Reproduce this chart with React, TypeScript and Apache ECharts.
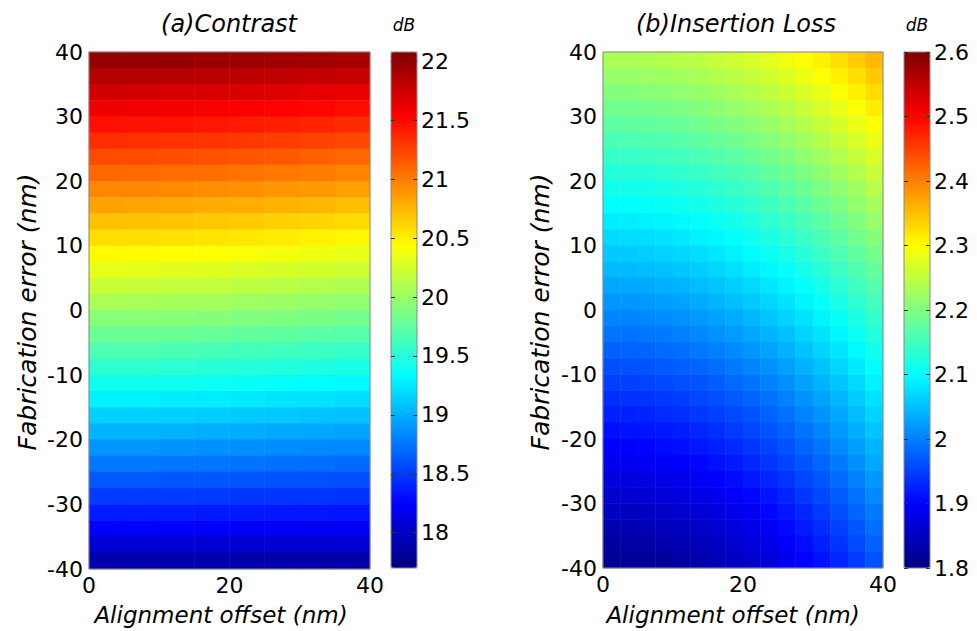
import React, { useEffect, useRef } from "react";
import * as echarts from "echarts";

// ---------- data (cell centres, rows listed from top y=38.75 to bottom y=-38.75) ----------
const rowCenters = [
  38.75, 36.25, 33.75, 31.25, 28.75, 26.25, 23.75, 21.25, 18.75, 16.25, 13.75, 11.25, 8.75, 6.25, 3.75, 1.25,
  -1.25, -3.75, -6.25, -8.75, -11.25, -13.75, -16.25, -18.75, -21.25, -23.75, -26.25, -28.75, -31.25, -33.75, -36.25, -38.75,
];

const contrastColCenters = [2.5, 7.5, 12.5, 17.5, 22.5, 27.5, 32.5, 37.5];
const contrastRows = [
  [21.99, 21.99, 21.98, 21.97, 21.96, 21.94, 21.93, 21.91],
  [21.86, 21.86, 21.85, 21.84, 21.82, 21.81, 21.79, 21.77],
  [21.73, 21.72, 21.71, 21.7, 21.69, 21.67, 21.65, 21.63],
  [21.6, 21.59, 21.58, 21.57, 21.55, 21.53, 21.51, 21.48],
  [21.47, 21.46, 21.45, 21.44, 21.42, 21.4, 21.38, 21.35],
  [21.34, 21.33, 21.32, 21.31, 21.29, 21.27, 21.25, 21.23],
  [21.21, 21.21, 21.2, 21.18, 21.17, 21.15, 21.12, 21.1],
  [21.09, 21.08, 21.07, 21.06, 21.04, 21.02, 21.0, 20.97],
  [20.96, 20.95, 20.94, 20.93, 20.91, 20.89, 20.87, 20.85],
  [20.84, 20.83, 20.82, 20.8, 20.79, 20.77, 20.75, 20.72],
  [20.71, 20.7, 20.69, 20.68, 20.66, 20.64, 20.62, 20.59],
  [20.58, 20.58, 20.57, 20.55, 20.54, 20.52, 20.49, 20.47],
  [20.46, 20.45, 20.44, 20.43, 20.41, 20.39, 20.37, 20.34],
  [20.33, 20.32, 20.31, 20.3, 20.28, 20.26, 20.24, 20.22],
  [20.2, 20.19, 20.18, 20.17, 20.15, 20.13, 20.11, 20.09],
  [20.07, 20.06, 20.05, 20.04, 20.02, 20.0, 19.98, 19.96],
  [19.93, 19.93, 19.92, 19.91, 19.89, 19.88, 19.86, 19.83],
  [19.8, 19.8, 19.79, 19.78, 19.76, 19.75, 19.73, 19.71],
  [19.67, 19.67, 19.66, 19.65, 19.63, 19.62, 19.6, 19.58],
  [19.54, 19.54, 19.53, 19.52, 19.5, 19.49, 19.47, 19.45],
  [19.41, 19.41, 19.4, 19.39, 19.38, 19.36, 19.34, 19.32],
  [19.28, 19.28, 19.27, 19.26, 19.25, 19.23, 19.22, 19.2],
  [19.15, 19.15, 19.14, 19.13, 19.12, 19.11, 19.09, 19.08],
  [19.02, 19.02, 19.01, 19.0, 18.99, 18.98, 18.97, 18.95],
  [18.89, 18.89, 18.88, 18.87, 18.86, 18.85, 18.84, 18.83],
  [18.76, 18.76, 18.75, 18.75, 18.74, 18.73, 18.72, 18.7],
  [18.63, 18.63, 18.62, 18.62, 18.61, 18.6, 18.59, 18.58],
  [18.5, 18.5, 18.5, 18.49, 18.48, 18.47, 18.47, 18.46],
  [18.37, 18.37, 18.37, 18.36, 18.36, 18.35, 18.34, 18.33],
  [18.24, 18.24, 18.23, 18.23, 18.22, 18.22, 18.21, 18.2],
  [18.06, 18.06, 18.06, 18.06, 18.05, 18.05, 18.04, 18.04],
  [17.89, 17.89, 17.89, 17.88, 17.88, 17.88, 17.87, 17.87],
];

const lossColCenters = [
  1.25, 3.75, 6.25, 8.75, 11.25, 13.75, 16.25, 18.75, 21.25, 23.75, 26.25, 28.75, 31.25, 33.75, 36.25, 38.75,
];
const lossRows = [
  [2.233, 2.234, 2.236, 2.239, 2.243, 2.248, 2.254, 2.261, 2.269, 2.279, 2.289, 2.3, 2.312, 2.325, 2.34, 2.355],
  [2.218, 2.219, 2.221, 2.224, 2.228, 2.233, 2.239, 2.246, 2.255, 2.264, 2.274, 2.285, 2.298, 2.311, 2.325, 2.341],
  [2.203, 2.204, 2.206, 2.209, 2.213, 2.218, 2.224, 2.232, 2.24, 2.249, 2.26, 2.271, 2.283, 2.297, 2.311, 2.327],
  [2.188, 2.189, 2.191, 2.194, 2.198, 2.203, 2.21, 2.217, 2.225, 2.235, 2.245, 2.256, 2.269, 2.282, 2.297, 2.313],
  [2.173, 2.174, 2.176, 2.179, 2.183, 2.188, 2.195, 2.202, 2.21, 2.22, 2.23, 2.242, 2.254, 2.268, 2.283, 2.298],
  [2.158, 2.159, 2.161, 2.164, 2.168, 2.173, 2.18, 2.187, 2.196, 2.205, 2.216, 2.227, 2.24, 2.254, 2.269, 2.284],
  [2.143, 2.144, 2.146, 2.149, 2.153, 2.159, 2.165, 2.172, 2.181, 2.19, 2.201, 2.213, 2.226, 2.239, 2.254, 2.27],
  [2.128, 2.129, 2.131, 2.134, 2.138, 2.144, 2.15, 2.158, 2.166, 2.176, 2.187, 2.198, 2.211, 2.225, 2.24, 2.256],
  [2.113, 2.114, 2.116, 2.12, 2.124, 2.129, 2.136, 2.143, 2.152, 2.162, 2.173, 2.184, 2.197, 2.211, 2.226, 2.243],
  [2.1, 2.101, 2.103, 2.106, 2.11, 2.116, 2.122, 2.13, 2.139, 2.148, 2.159, 2.171, 2.184, 2.198, 2.214, 2.23],
  [2.086, 2.087, 2.089, 2.092, 2.097, 2.102, 2.109, 2.116, 2.125, 2.135, 2.146, 2.158, 2.171, 2.185, 2.2, 2.217],
  [2.072, 2.073, 2.075, 2.079, 2.083, 2.089, 2.095, 2.103, 2.112, 2.122, 2.133, 2.145, 2.158, 2.172, 2.188, 2.204],
  [2.058, 2.059, 2.062, 2.065, 2.069, 2.075, 2.081, 2.089, 2.098, 2.108, 2.119, 2.131, 2.145, 2.159, 2.174, 2.191],
  [2.045, 2.046, 2.048, 2.051, 2.056, 2.061, 2.068, 2.076, 2.085, 2.095, 2.106, 2.118, 2.132, 2.146, 2.162, 2.178],
  [2.031, 2.032, 2.034, 2.037, 2.042, 2.048, 2.054, 2.062, 2.071, 2.081, 2.092, 2.105, 2.118, 2.133, 2.149, 2.165],
  [2.017, 2.018, 2.02, 2.024, 2.028, 2.034, 2.041, 2.049, 2.058, 2.068, 2.079, 2.092, 2.105, 2.12, 2.136, 2.153],
  [2.003, 2.004, 2.007, 2.01, 2.015, 2.02, 2.027, 2.035, 2.044, 2.054, 2.066, 2.078, 2.092, 2.107, 2.123, 2.14],
  [1.99, 1.991, 1.993, 1.996, 2.001, 2.007, 2.014, 2.022, 2.031, 2.041, 2.052, 2.065, 2.079, 2.094, 2.11, 2.127],
  [1.976, 1.977, 1.979, 1.983, 1.987, 1.993, 2.0, 2.008, 2.017, 2.028, 2.039, 2.052, 2.066, 2.08, 2.097, 2.114],
  [1.962, 1.963, 1.966, 1.969, 1.974, 1.979, 1.986, 1.995, 2.004, 2.014, 2.026, 2.039, 2.052, 2.068, 2.084, 2.101],
  [1.949, 1.95, 1.952, 1.956, 1.961, 1.966, 1.973, 1.982, 1.991, 2.001, 2.013, 2.026, 2.04, 2.055, 2.071, 2.089],
  [1.936, 1.938, 1.94, 1.944, 1.948, 1.954, 1.961, 1.969, 1.979, 1.989, 2.001, 2.014, 2.028, 2.043, 2.06, 2.077],
  [1.924, 1.925, 1.927, 1.931, 1.936, 1.942, 1.949, 1.957, 1.966, 1.977, 1.989, 2.002, 2.016, 2.031, 2.048, 2.066],
  [1.911, 1.913, 1.915, 1.919, 1.923, 1.929, 1.936, 1.945, 1.954, 1.965, 1.977, 1.99, 2.004, 2.02, 2.036, 2.054],
  [1.899, 1.9, 1.903, 1.906, 1.911, 1.917, 1.924, 1.932, 1.942, 1.953, 1.965, 1.978, 1.992, 2.008, 2.024, 2.042],
  [1.886, 1.888, 1.89, 1.894, 1.899, 1.904, 1.912, 1.92, 1.93, 1.941, 1.953, 1.966, 1.98, 1.996, 2.013, 2.031],
  [1.874, 1.875, 1.878, 1.881, 1.886, 1.892, 1.899, 1.908, 1.918, 1.928, 1.941, 1.954, 1.968, 1.984, 2.001, 2.019],
  [1.861, 1.863, 1.865, 1.869, 1.874, 1.88, 1.887, 1.896, 1.905, 1.916, 1.928, 1.942, 1.956, 1.972, 1.989, 2.008],
  [1.85, 1.851, 1.853, 1.857, 1.862, 1.868, 1.875, 1.884, 1.894, 1.905, 1.917, 1.93, 1.945, 1.961, 1.978, 1.996],
  [1.838, 1.84, 1.842, 1.846, 1.851, 1.857, 1.864, 1.873, 1.883, 1.894, 1.906, 1.92, 1.934, 1.95, 1.968, 1.986],
  [1.827, 1.828, 1.831, 1.835, 1.839, 1.846, 1.853, 1.862, 1.872, 1.883, 1.895, 1.909, 1.924, 1.94, 1.957, 1.976],
  [1.816, 1.817, 1.819, 1.823, 1.828, 1.834, 1.842, 1.851, 1.861, 1.872, 1.884, 1.898, 1.913, 1.929, 1.947, 1.965],
];

const xTickValues = [0, 20, 40];
const yTickValues = [-40, -30, -20, -10, 0, 10, 20, 30, 40];
const contrastBarTicks = [18, 18.5, 19, 19.5, 20, 20.5, 21, 21.5, 22];
const lossBarTicks = [1.8, 1.9, 2, 2.1, 2.2, 2.3, 2.4, 2.5, 2.6];
const contrastRange = [17.7, 22.08];
const lossRange = [1.8, 2.6];

const jet = ["#000080", "#0000ff", "#0080ff", "#00ffff", "#80ff80", "#ffff00", "#ff8000", "#ff0000", "#800000"];

const FONT = "DejaVu Sans";

function toCells(rows: number[][]) {
  const out: number[][] = [];
  const n = rows.length;
  rows.forEach((row, r) => {
    row.forEach((v, c) => out.push([c, n - 1 - r, v]));
  });
  return out;
}

export default function App() {
  const ref = useRef<HTMLDivElement>(null);
  useEffect(() => {
    if (!ref.current) return;
    const chart = echarts.init(ref.current, null, { renderer: "svg" });
    const yCats = [...rowCenters].reverse().map(String);

    const grids = [
      { left: 89, top: 52, width: 281, height: 517 },
      { left: 391, top: 52, width: 26, height: 516 },
      { left: 603, top: 52, width: 280, height: 516 },
      { left: 904, top: 52, width: 26, height: 516 },
    ];

    const mainX = (gridIndex: number) => ({
      gridIndex,
      type: "value",
      min: 0,
      max: 40,
      interval: 20,
      position: "bottom",
      axisLine: { show: false, onZero: false },
      axisTick: { show: false },
      splitLine: { show: false },
      axisLabel: { color: "#000", fontFamily: FONT, fontSize: 22, margin: 5, customValues: xTickValues },
    });
    const mainY = (gridIndex: number) => ({
      gridIndex,
      type: "value",
      min: -40,
      max: 40,
      interval: 10,
      position: "left",
      axisLine: { show: false, onZero: false },
      axisTick: { show: false },
      splitLine: { show: false },
      axisLabel: { color: "#000", fontFamily: FONT, fontSize: 22, margin: 6, customValues: yTickValues },
    });
    const barY = (gridIndex: number, range: number[], ticks: number[], pos: string, showLabel: boolean) => ({
      gridIndex,
      type: "value",
      min: range[0],
      max: range[1],
      position: pos,
      z: 10,
      axisLine: { show: false, onZero: false },
      axisTick: { show: true, inside: true, length: 4, lineStyle: { color: "#333", width: 1 }, customValues: ticks },
      splitLine: { show: false },
      axisLabel: {
        show: showLabel,
        color: "#000",
        fontFamily: FONT,
        fontSize: 22,
        margin: 4,
        customValues: ticks,
      },
    });

    const option: any = {
      animation: false,
      backgroundColor: "#fff",
      grid: grids.map((g) => ({
        ...g,
        show: true,
        z: 10,
        backgroundColor: "transparent",
        borderColor: "#8a8a8a",
        borderWidth: 1,
      })),
      xAxis: [
        { gridIndex: 0, type: "category", data: contrastColCenters.map(String), show: false },
        mainX(0),
        { gridIndex: 1, type: "value", min: 0, max: 1, show: false },
        { gridIndex: 2, type: "category", data: lossColCenters.map(String), show: false },
        mainX(2),
        { gridIndex: 3, type: "value", min: 0, max: 1, show: false },
      ],
      yAxis: [
        { gridIndex: 0, type: "category", data: yCats, show: false },
        mainY(0),
        barY(1, contrastRange, contrastBarTicks, "right", true),
        barY(1, contrastRange, contrastBarTicks, "left", false),
        { gridIndex: 2, type: "category", data: yCats, show: false },
        mainY(2),
        barY(3, lossRange, lossBarTicks, "right", true),
        barY(3, lossRange, lossBarTicks, "left", false),
      ],
      visualMap: [
        {
          type: "continuous",
          seriesIndex: 0,
          min: contrastRange[0],
          max: contrastRange[1],
          inRange: { color: jet },
          orient: "vertical",
          left: 391,
          top: 52,
          itemWidth: 26,
          itemHeight: 516,
          padding: 0,
          calculable: false,
          realtime: false,
          hoverLink: false,
        },
        {
          type: "continuous",
          seriesIndex: 1,
          min: lossRange[0],
          max: lossRange[1],
          inRange: { color: jet },
          orient: "vertical",
          left: 904,
          top: 52,
          itemWidth: 26,
          itemHeight: 516,
          padding: 0,
          calculable: false,
          realtime: false,
          hoverLink: false,
        },
      ],
      series: [
        {
          type: "heatmap",
          xAxisIndex: 0,
          yAxisIndex: 0,
          data: toCells(contrastRows),
          itemStyle: { borderWidth: 0 },
          emphasis: { disabled: true },
        },
        {
          type: "heatmap",
          xAxisIndex: 3,
          yAxisIndex: 4,
          data: toCells(lossRows),
          itemStyle: { borderWidth: 0 },
          emphasis: { disabled: true },
        },
      ],
      graphic: [
        { type: "text", x: 229, y: 24, style: { text: "(a)Contrast", font: `italic 24px "${FONT}"`, fill: "#000", textAlign: "center", textVerticalAlign: "middle" } },
        { type: "text", x: 404, y: 25, style: { text: "dB", font: `italic 17px "${FONT}"`, fill: "#000", textAlign: "center", textVerticalAlign: "middle" } },
        { type: "text", x: 736, y: 24, style: { text: "(b)Insertion Loss", font: `italic 24px "${FONT}"`, fill: "#000", textAlign: "center", textVerticalAlign: "middle" } },
        { type: "text", x: 917, y: 25, style: { text: "dB", font: `italic 17px "${FONT}"`, fill: "#000", textAlign: "center", textVerticalAlign: "middle" } },
        { type: "text", x: 221, y: 615, style: { text: "Alignment offset (nm)", font: `italic 23px "${FONT}"`, fill: "#000", textAlign: "center", textVerticalAlign: "middle" } },
        { type: "text", x: 733, y: 615, style: { text: "Alignment offset (nm)", font: `italic 23px "${FONT}"`, fill: "#000", textAlign: "center", textVerticalAlign: "middle" } },
        { type: "text", x: 27, y: 312, rotation: Math.PI / 2, style: { text: "Fabrication error (nm)", font: `italic 25px "${FONT}"`, fill: "#000", textAlign: "center", textVerticalAlign: "middle" } },
        { type: "text", x: 540, y: 312, rotation: Math.PI / 2, style: { text: "Fabrication error (nm)", font: `italic 25px "${FONT}"`, fill: "#000", textAlign: "center", textVerticalAlign: "middle" } },
      ],
    };
    chart.setOption(option);
    return () => chart.dispose();
  }, []);
  return <div ref={ref} style={{ position: "fixed", left: 0, top: 0, width: 977, height: 631, background: "#fff" }} />;
}
